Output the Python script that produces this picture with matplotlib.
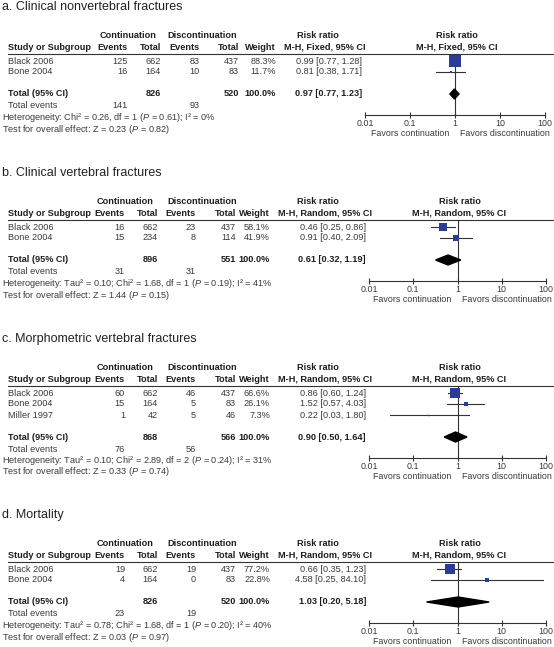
import matplotlib
matplotlib.use("Agg")
import matplotlib.pyplot as plt
from matplotlib.lines import Line2D

plt.rcParams['font.family'] = ['Liberation Sans', 'DejaVu Sans']
plt.rcParams['mathtext.fontset'] = 'custom'
plt.rcParams['mathtext.rm'] = 'Liberation Sans'
plt.rcParams['mathtext.it'] = 'Liberation Sans:italic'

# ---- data ----
titles = ["a. Clinical nonvertebral fractures", "b. Clinical vertebral fractures",
          "c. Morphometric vertebral fractures", "d. Mortality"]
methods = ["Fixed", "Random", "Random", "Random"]
studies = [["Black 2006", "Bone 2004"], ["Black 2006", "Bone 2004"],
           ["Black 2006", "Bone 2004", "Miller 1997"], ["Black 2006", "Bone 2004"]]
cont_events = [[125, 16], [16, 15], [60, 15, 1], [19, 4]]
cont_total = [[662, 164], [662, 234], [662, 164, 42], [662, 164]]
disc_events = [[83, 10], [23, 8], [46, 5, 5], [19, 0]]
disc_total = [[437, 83], [437, 114], [437, 83, 46], [437, 83]]
weights = [[88.3, 11.7], [58.1, 41.9], [66.6, 26.1, 7.3], [77.2, 22.8]]
rr = [[0.99, 0.81], [0.46, 0.91], [0.86, 1.52, 0.22], [0.66, 4.58]]
rr_lo = [[0.77, 0.38], [0.25, 0.40], [0.60, 0.57, 0.03], [0.35, 0.25]]
rr_hi = [[1.28, 1.71], [0.86, 2.09], [1.24, 4.03, 1.80], [1.23, 84.10]]
pooled = [0.97, 0.61, 0.90, 1.03]
pooled_lo = [0.77, 0.32, 0.50, 0.20]
pooled_hi = [1.23, 1.19, 1.64, 5.18]
sum_cont_total = [826, 896, 868, 826]
sum_disc_total = [520, 551, 566, 520]
sum_cont_events = [141, 31, 76, 23]
sum_disc_events = [93, 31, 56, 19]
tau2 = [None, 0.10, 0.10, 0.78]
chi2 = [0.26, 1.68, 2.89, 1.68]
dfs = [1, 1, 2, 1]
p_het = [0.61, 0.19, 0.24, 0.20]
i2 = [0, 41, 31, 40]
z_val = [0.23, 1.44, 0.33, 0.03]
p_z = [0.82, 0.15, 0.74, 0.97]
tick_vals = [0.01, 0.1, 1, 10, 100]
tick_labels = ["0.01", "0.1", "1", "10", "100"]

# ---- layout (pixels) ----
W, H = 554, 647
line_y = [54, 220, 386, 562]
forest_x = [(365, 545), (369, 546), (369, 546), (369, 546)]
cols = [dict(ev1=128, tot1=161, ev2=200, tot2=239, wt=276, rr=362),
        dict(ev1=125, tot1=158, ev2=196, tot2=236, wt=270, rr=366),
        dict(ev1=125, tot1=158, ev2=196, tot2=236, wt=270, rr=366),
        dict(ev1=125, tot1=158, ev2=196, tot2=236, wt=270, rr=366)]
FS = 6.6
TXT = '#3a3a3a'
HDR = '#1e1e1e'
BLUE = '#2b3b98'
LINE = '#333333'

fig = plt.figure(figsize=(W / 100, H / 100), dpi=100)


def fx(px):
    return px / W


def fy(py):
    return 1 - py / H


def put(x, y, s, ha='left', bold=False, size=FS, color=None):
    fig.text(fx(x), fy(y), s, ha=ha, va='center', fontsize=size,
             fontweight='bold' if bold else 'normal',
             color=color or (HDR if bold else TXT))


for p in range(4):
    ly = line_y[p]
    c = cols[p]
    x0, x1 = forest_x[p]
    n = len(studies[p])
    rows = [ly + 7 + 11 * i for i in range(n)]
    tot_y = rows[-1] + 22
    axis_y = tot_y + 21

    put(2, ly - 47, titles[p], size=9.0, color='#222222')

    # column headers
    put(c['ev1'], ly - 19, "Continuation", ha='center', bold=True)
    put(202, ly - 19, "Discontinuation", ha='center', bold=True)
    put(318, ly - 19, "Risk ratio", ha='center', bold=True)
    put(8, ly - 7, "Study or Subgroup", bold=True)
    put(c['ev1'], ly - 7, "Events", ha='right', bold=True)
    put(c['tot1'], ly - 7, "Total", ha='right', bold=True)
    put(c['ev2'], ly - 7, "Events", ha='right', bold=True)
    put(c['tot2'], ly - 7, "Total", ha='right', bold=True)
    put(c['wt'], ly - 7, "Weight", ha='right', bold=True)
    put(325, ly - 7, f"M-H, {methods[p]}, 95% CI", ha='center', bold=True)
    xc = x0 + (x1 - x0) / 2 + 2
    put(xc, ly - 19, "Risk ratio", ha='center', bold=True)
    put(xc, ly - 7, f"M-H, {methods[p]}, 95% CI", ha='center', bold=True)
    fig.add_artist(Line2D([fx(8), fx(W)], [fy(ly), fy(ly)], color=LINE, lw=0.8))

    # study rows
    for i in range(n):
        y = rows[i]
        put(8, y, studies[p][i])
        put(c['ev1'], y, str(cont_events[p][i]), ha='right')
        put(c['tot1'], y, str(cont_total[p][i]), ha='right')
        put(c['ev2'], y, str(disc_events[p][i]), ha='right')
        put(c['tot2'], y, str(disc_total[p][i]), ha='right')
        put(c['wt'], y, f"{weights[p][i]:.1f}%", ha='right')
        put(c['rr'], y, f"{rr[p][i]:.2f} [{rr_lo[p][i]:.2f}, {rr_hi[p][i]:.2f}]", ha='right')

    # totals
    put(8, tot_y, "Total (95% CI)", bold=True)
    put(c['tot1'], tot_y, str(sum_cont_total[p]), ha='right', bold=True)
    put(c['tot2'], tot_y, str(sum_disc_total[p]), ha='right', bold=True)
    put(c['wt'], tot_y, "100.0%", ha='right', bold=True)
    put(c['rr'], tot_y, f"{pooled[p]:.2f} [{pooled_lo[p]:.2f}, {pooled_hi[p]:.2f}]",
        ha='right', bold=True)
    put(8, tot_y + 12, "Total events")
    put(c['ev1'], tot_y + 12, str(sum_cont_events[p]), ha='right')
    put(c['ev2'], tot_y + 12, str(sum_disc_events[p]), ha='right')

    het = "Heterogeneity: "
    if tau2[p] is not None:
        het += f"Tau² = {tau2[p]:.2f}; "
    het += f"Chi² = {chi2[p]:.2f}, df = {dfs[p]} ($\\mathit{{P}}$ = {p_het[p]:.2f}); I² = {i2[p]}%"
    put(2, tot_y + 23.5, het)
    put(2, tot_y + 35, f"Test for overall effect: Z = {z_val[p]:.2f} ($\\mathit{{P}}$ = {p_z[p]:.2f})")

    # forest plot area
    ax = fig.add_axes([fx(x0), fy(axis_y), (x1 - x0) / W, (axis_y - ly) / H])
    ax.set_xscale('log')
    ax.set_xlim(0.01, 100)
    ax.set_ylim(axis_y, ly)
    ax.patch.set_visible(False)
    for s in ['top', 'left', 'right']:
        ax.spines[s].set_visible(False)
    ax.spines['bottom'].set_color(LINE)
    ax.spines['bottom'].set_linewidth(0.8)
    ax.set_yticks([])
    ax.set_xticks(tick_vals)
    ax.set_xticklabels(tick_labels)
    ax.minorticks_off()
    ax.tick_params(axis='x', direction='inout', length=5, width=0.8, color=LINE,
                   labelsize=6.4, labelcolor=TXT, pad=0.5)
    ax.axvline(1, color=LINE, lw=0.8, zorder=1)

    for i in range(n):
        y = rows[i]
        ax.plot([rr_lo[p][i], rr_hi[p][i]], [y, y], color=LINE, lw=0.8, zorder=2,
                clip_on=False)
        side = 13 * weights[p][i] / 100 + 0.5
        ax.plot(rr[p][i], y, marker='s', ms=side * 0.72, color=BLUE, mec=BLUE,
                mew=0, zorder=3, clip_on=False)
    ax.fill([pooled_lo[p], pooled[p], pooled_hi[p], pooled[p]],
            [tot_y, tot_y - 5, tot_y, tot_y + 5], color='black', zorder=3, clip_on=False)

    # direction labels
    one_px = x0 + (x1 - x0) / 2
    put(one_px - 6, axis_y + 18.5, "Favors continuation", ha='right', size=6.4)
    put(one_px + 5, axis_y + 18.5, "Favors discontinuation", ha='left', size=6.4)

fig.savefig("out.png", dpi=100)
